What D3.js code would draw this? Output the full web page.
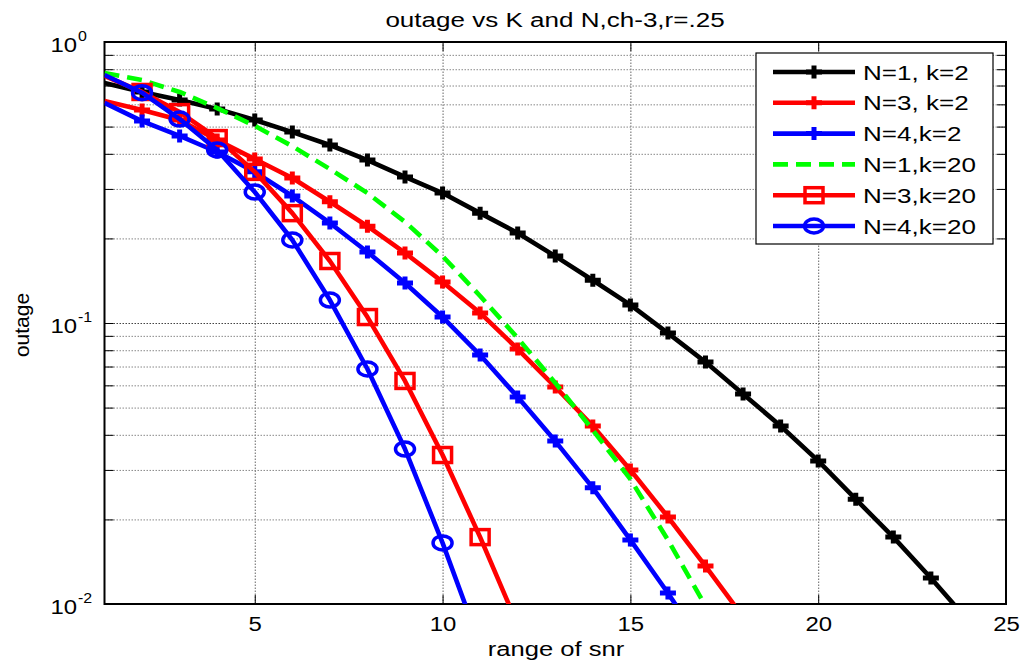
<!DOCTYPE html>
<html>
<head>
<meta charset="utf-8">
<script src="https://cdn.jsdelivr.net/npm/d3@7"></script>
<style>
  html, body { margin: 0; padding: 0; background: #fff; }
  svg { display: block; font-family: "Liberation Sans", Arial, sans-serif; }
</style>
</head>
<body>
<div id="chart"></div>
<script>
// snr points (x values)
const snr = [1, 2, 3, 4, 5, 6, 7, 8, 9, 10, 11, 12, 13, 14, 15, 16, 17, 18, 19, 20, 21, 22, 23, 24, 25];

// outage values, one list per curve (starting at snr = 1)
const outN1k2 = [0.715, 0.664, 0.622, 0.578, 0.528, 0.478, 0.430, 0.380, 0.331, 0.290, 0.246, 0.209, 0.173,
  0.142, 0.116, 0.0921, 0.0726, 0.0559, 0.0430, 0.0323, 0.0236, 0.0173, 0.01237, 0.0087, 0.0060];
const outN3k2 = [0.617, 0.573, 0.528, 0.448, 0.383, 0.328, 0.270, 0.221, 0.1775, 0.140, 0.1086, 0.0808, 0.0592,
  0.0430, 0.0300, 0.0204, 0.01365, 0.0090];
const outN4k2 = [0.607, 0.523, 0.463, 0.406, 0.345, 0.283, 0.227, 0.179, 0.1388, 0.1050, 0.0769, 0.0545, 0.0380,
  0.0259, 0.0169, 0.01094, 0.00686];
const outN1k20 = [0.776, 0.732, 0.664, 0.582, 0.503, 0.426, 0.353, 0.290, 0.229, 0.173, 0.1248, 0.0884, 0.0612,
  0.0416, 0.0278, 0.0169, 0.00984, 0.0054];
const outN3k20 = [0.757, 0.664, 0.563, 0.455, 0.345, 0.246, 0.1662, 0.1050, 0.0622, 0.0339, 0.0173, 0.00842];
const outN4k20 = [0.763, 0.660, 0.532, 0.413, 0.2925, 0.1974, 0.1207, 0.0686, 0.0356, 0.0165, 0.00715];

const seriesNames = ['N=1, k=2', 'N=3, k=2', 'N=4,k=2', 'N=1,k=20', 'N=3,k=20', 'N=4,k=20'];

const xTicks = [5, 10, 15, 20, 25];
const xGridTicks = [5, 10, 15, 20];
const yMajorTicks = [0.01, 0.1, 1];
const yExponents = ['-2', '-1', '0'];
const yMinorTicks = [0.02, 0.03, 0.04, 0.05, 0.06, 0.07, 0.08, 0.09, 0.2, 0.3, 0.4, 0.5, 0.6, 0.7, 0.8, 0.9];

const titleText = 'outage vs K and N,ch-3,r=.25';
const xLabelText = 'range of snr';
const yLabelText = 'outage';

const config = {
  width: 1031,
  height: 664,
  left: 104.5,
  right: 1006,
  top: 42,
  bottom: 604,
  font: 21,
  stretch: 1.24,     // the picture was stretched sideways, text too
  tickStretch: 1.14,
  lineWidth: 4.6
};

const styles = [
  { color: '#000000', marker: 'plus', dash: null },
  { color: '#ff0000', marker: 'plus', dash: null },
  { color: '#0000ff', marker: 'plus', dash: null },
  { color: '#00ff00', marker: 'none', dash: '15,8' },
  { color: '#ff0000', marker: 'square', dash: null },
  { color: '#0000ff', marker: 'circle', dash: null }
];

const allValues = [outN1k2, outN3k2, outN4k2, outN1k20, outN3k20, outN4k20];
const series = allValues.map((vals, i) => ({
  name: seriesNames[i],
  style: styles[i],
  points: vals.map((v, j) => ({ x: snr[j], y: v }))
}));

const svg = d3.select('#chart')
  .append('svg')
  .attr('width', config.width)
  .attr('height', config.height);

const x = d3.scaleLinear().domain([1, 25]).range([config.left, config.right]);
const y = d3.scaleLog().domain([0.01, 1]).range([config.bottom, config.top]);
const plotW = config.right - config.left;
const plotH = config.bottom - config.top;

svg.append('defs').append('clipPath')
  .attr('id', 'plot-clip')
  .append('rect')
  .attr('x', config.left)
  .attr('y', config.top)
  .attr('width', plotW)
  .attr('height', plotH);

// grid lines (dotted, MATLAB style)
const gridStyle = (g, color) => {
  g.select('.domain').remove();
  g.selectAll('.tick line')
    .attr('stroke', color)
    .attr('stroke-width', 1)
    .attr('stroke-dasharray', '1.5,1.5');
  g.selectAll('.tick text').remove();
};

svg.append('g')
  .attr('transform', `translate(0, ${config.bottom})`)
  .call(d3.axisBottom(x).tickValues(xGridTicks).tickSize(-plotH))
  .call(g => gridStyle(g, '#666'));

svg.append('g')
  .attr('transform', `translate(${config.left}, 0)`)
  .call(d3.axisLeft(y).tickValues(yMinorTicks).tickSize(-plotW))
  .call(g => gridStyle(g, '#888'));

svg.append('g')
  .attr('transform', `translate(${config.left}, 0)`)
  .call(d3.axisLeft(y).tickValues([0.1]).tickSize(-plotW))
  .call(g => gridStyle(g, '#444'));

// inward ticks on all four sides
const tickStyle = (g) => {
  g.select('.domain').remove();
  g.selectAll('.tick line').attr('stroke', '#000').attr('stroke-width', 1);
  g.selectAll('.tick text').remove();
};
const tickLen = 9;

svg.append('g')
  .attr('transform', `translate(0, ${config.bottom})`)
  .call(d3.axisBottom(x).tickValues(xGridTicks).tickSize(-tickLen))
  .call(tickStyle);
svg.append('g')
  .attr('transform', `translate(0, ${config.top})`)
  .call(d3.axisTop(x).tickValues(xGridTicks).tickSize(-tickLen))
  .call(tickStyle);
svg.append('g')
  .attr('transform', `translate(${config.left}, 0)`)
  .call(d3.axisLeft(y).tickValues(yMinorTicks.concat([0.1])).tickSize(-tickLen))
  .call(tickStyle);
svg.append('g')
  .attr('transform', `translate(${config.right}, 0)`)
  .call(d3.axisRight(y).tickValues(yMinorTicks.concat([0.1])).tickSize(-tickLen))
  .call(tickStyle);

// x tick labels
const xLabels = svg.append('g')
  .attr('transform', `translate(0, ${config.bottom})`)
  .call(d3.axisBottom(x).tickValues(xTicks).tickSize(0).tickFormat(d3.format('d')));
xLabels.select('.domain').remove();
xLabels.selectAll('.tick text')
  .attr('y', 0)
  .attr('dy', 0)
  .attr('transform', `translate(0, 27) scale(${config.tickStretch}, 1)`)
  .attr('fill', '#000')
  .style('font-size', `${config.font}px`)
  .style('font-family', '"Liberation Sans", Arial, sans-serif');

// y tick labels with powers of ten
const yLabels = svg.append('g')
  .attr('transform', `translate(${config.left}, 0)`)
  .call(d3.axisLeft(y).tickValues(yMajorTicks).tickSize(0).tickFormat(() => ''));
yLabels.select('.domain').remove();
yLabels.selectAll('.tick text').remove();
yLabels.selectAll('.tick').each(function (d, i) {
  const g = d3.select(this);
  g.append('text')
    .attr('transform', `translate(-27.5, 9) scale(${config.tickStretch}, 1)`)
    .attr('text-anchor', 'end')
    .attr('fill', '#000')
    .style('font-size', `${config.font}px`)
    .text('10');
  g.append('text')
    .attr('transform', `translate(-26.5, -2) scale(${config.tickStretch}, 1)`)
    .attr('text-anchor', 'start')
    .attr('fill', '#000')
    .style('font-size', '14px')
    .text(yExponents[i]);
});

// frame
svg.append('rect')
  .attr('x', config.left)
  .attr('y', config.top)
  .attr('width', plotW)
  .attr('height', plotH)
  .attr('fill', 'none')
  .attr('stroke', '#000')
  .attr('stroke-width', 2);

// markers
const plusPath = 'M-8,0H8M0,-6.5V6.5';
const drawMarker = (g, style) => {
  if (style.marker === 'plus') {
    g.append('path').attr('d', plusPath)
      .attr('stroke', style.color).attr('stroke-width', 5).attr('fill', 'none');
  } else if (style.marker === 'square') {
    g.append('rect').attr('x', -9).attr('y', -7.5).attr('width', 18).attr('height', 15)
      .attr('stroke', style.color).attr('stroke-width', 3.5).attr('fill', 'none');
  } else if (style.marker === 'circle') {
    g.append('ellipse').attr('rx', 9.5).attr('ry', 7)
      .attr('stroke', style.color).attr('stroke-width', 3.5).attr('fill', 'none');
  }
};

const line = d3.line().x(d => x(d.x)).y(d => y(d.y));
const curves = svg.append('g');

series.forEach(s => {
  curves.append('path')
    .datum(s.points)
    .attr('clip-path', 'url(#plot-clip)')
    .attr('d', line)
    .attr('fill', 'none')
    .attr('stroke', s.style.color)
    .attr('stroke-width', config.lineWidth)
    .attr('stroke-dasharray', s.style.dash)
    .attr('stroke-linejoin', 'round');

  if (s.style.marker !== 'none') {
    // markers whose centre sits inside the axes
    const inside = s.points.filter(d => d.x > x.domain()[0] && d.y >= y.domain()[0]);
    curves.selectAll(null)
      .data(inside)
      .enter()
      .append('g')
      .attr('transform', d => `translate(${x(d.x)}, ${y(d.y)})`)
      .each(function () { drawMarker(d3.select(this), s.style); });
  }
});

// legend
const legend = svg.append('g');
legend.append('rect')
  .attr('x', 756)
  .attr('y', 53)
  .attr('width', 237)
  .attr('height', 191)
  .attr('fill', '#fff')
  .attr('stroke', '#000')
  .attr('stroke-width', 1.2);

series.forEach((s, i) => {
  const ly = 72 + i * 30.8;
  const item = legend.append('g').attr('transform', `translate(0, ${ly})`);
  item.append('line')
    .attr('x1', 773).attr('x2', 855)
    .attr('y1', 0).attr('y2', 0)
    .attr('stroke', s.style.color)
    .attr('stroke-width', config.lineWidth)
    .attr('stroke-dasharray', s.style.dash);
  drawMarker(item.append('g').attr('transform', 'translate(814, 0)'), s.style);
  item.append('text')
    .attr('transform', `translate(863, 7.5) scale(${config.stretch}, 1)`)
    .attr('fill', '#000')
    .style('font-size', `${config.font}px`)
    .text(s.name);
});

// title and axis labels
svg.append('text')
  .attr('transform', `translate(555, 27) scale(${config.stretch}, 1)`)
  .attr('text-anchor', 'middle')
  .style('font-size', `${config.font}px`)
  .text(titleText);

svg.append('text')
  .attr('transform', `translate(556, 656) scale(1.22, 1)`)
  .attr('text-anchor', 'middle')
  .style('font-size', `${config.font}px`)
  .text(xLabelText);

svg.append('text')
  .attr('transform', 'translate(29, 325) rotate(-90)')
  .attr('text-anchor', 'middle')
  .style('font-size', `${config.font}px`)
  .text(yLabelText);
</script>
</body>
</html>
